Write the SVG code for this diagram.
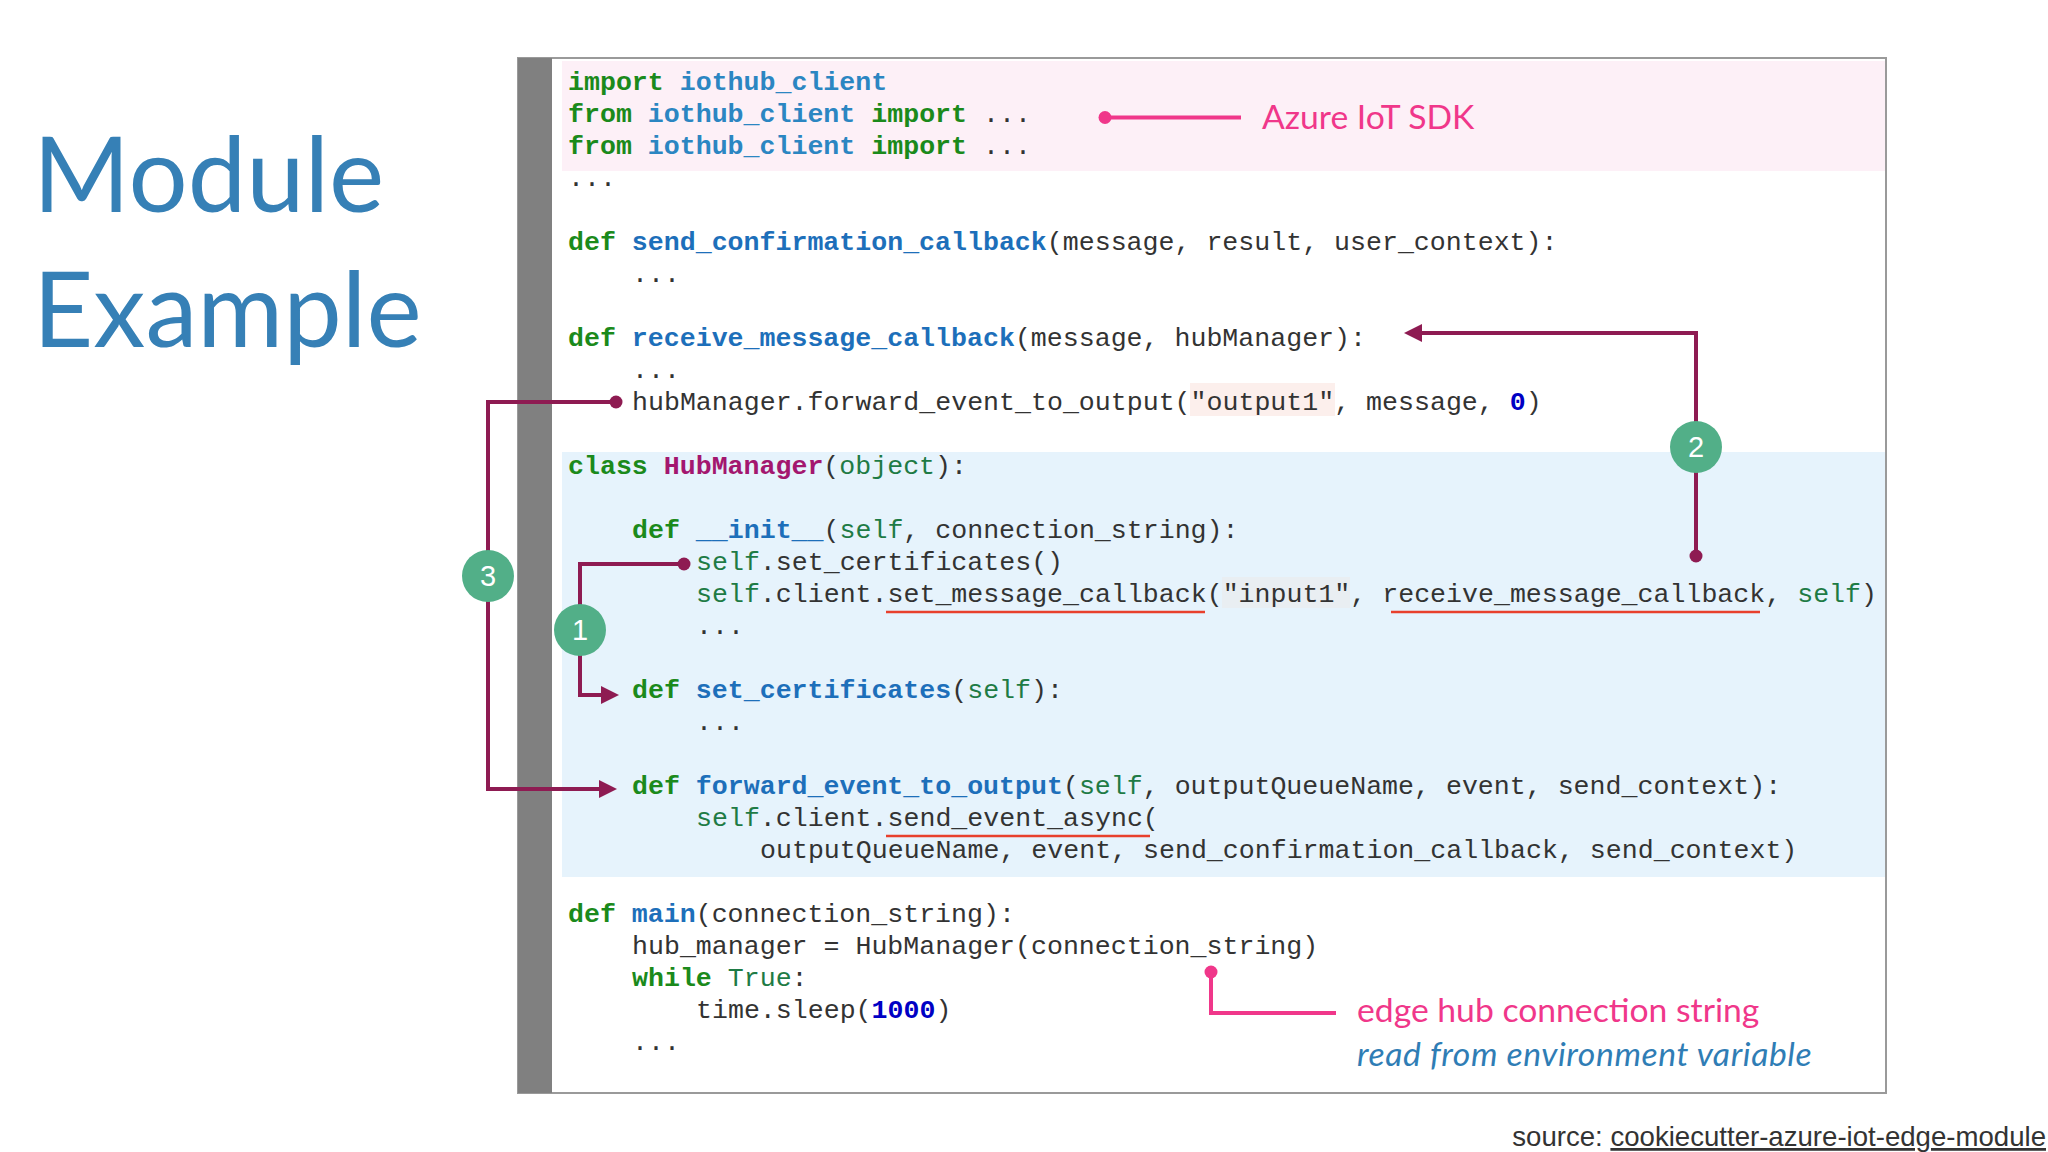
<svg xmlns="http://www.w3.org/2000/svg" width="2048" height="1152" viewBox="0 0 2048 1152">
<style>
.code{font-family:"Liberation Mono","DejaVu Sans Mono",monospace;font-size:26.6px;fill:#333333;white-space:pre}
.kw{fill:#1b8a1b;font-weight:bold}
.mod{fill:#2b86c2;font-weight:bold}
.fn{fill:#1d6fba;font-weight:bold}
.cls{fill:#a3166f;font-weight:bold}
.bi{fill:#1e7b45}
.num{fill:#0000c4;font-weight:bold}
.title{font-family:Lato,"Noto Sans",sans-serif;font-size:104.5px;fill:#3680b6;font-weight:400}
.note{font-family:Lato,"Noto Sans",sans-serif;font-size:33.7px}
.badge circle{fill:#52af88}
.badge text{font-family:"Liberation Sans",Arial,sans-serif;font-size:29px;fill:#ffffff;text-anchor:middle}
.conn{fill:none;stroke:#8e1b52;stroke-width:4}
.pink{fill:none;stroke:#f0378a;stroke-width:4}
.uline{stroke:#e8402c;stroke-width:2.5}
</style>
<defs>
<marker id="arr" markerUnits="userSpaceOnUse" markerWidth="18" markerHeight="18" viewBox="0 0 18 18" refX="4" refY="9" orient="auto">
<path d="M0,0 L18,9 L0,18 z" fill="#8e1b52"/>
</marker>
<marker id="dot" markerUnits="userSpaceOnUse" markerWidth="14" markerHeight="14" viewBox="0 0 14 14" refX="7" refY="7">
<circle cx="7" cy="7" r="6.5" fill="#8e1b52"/>
</marker>
<marker id="pdot" markerUnits="userSpaceOnUse" markerWidth="14" markerHeight="14" viewBox="0 0 14 14" refX="7" refY="7">
<circle cx="7" cy="7" r="6.5" fill="#f0378a"/>
</marker>
</defs>
<rect width="2048" height="1152" fill="#ffffff"/>

<g id="title">
<text class="title" x="33" y="212">Module</text>
<text class="title" x="33" y="347">Example</text>
</g>

<g id="code-panel">
<rect x="518" y="58" width="1368" height="1035" fill="#ffffff" stroke="#9a9a9a" stroke-width="2"/>
<rect x="562" y="61" width="1323" height="110" fill="#fdf0f7"/>
<rect x="562" y="452" width="1323" height="425" fill="#e6f3fc"/>
<rect x="518" y="58" width="34" height="1035" fill="#808080"/>
<rect x="1190" y="383" width="145" height="33" fill="#fcefec"/>
<rect x="1222" y="577" width="128" height="31" fill="#e9eef2"/>
<line class="uline" x1="886" y1="612" x2="1205" y2="612"/>
<line class="uline" x1="1391" y1="612" x2="1760" y2="612"/>
<line class="uline" x1="886" y1="836" x2="1150" y2="836"/>
</g>

<g id="code" transform="translate(0,2.5)">
<text class="code" x="568" y="87"><tspan class="kw">import</tspan> <tspan class="mod">iothub_client</tspan></text>
<text class="code" x="568" y="119"><tspan class="kw">from</tspan> <tspan class="mod">iothub_client</tspan> <tspan class="kw">import</tspan> ...</text>
<text class="code" x="568" y="151"><tspan class="kw">from</tspan> <tspan class="mod">iothub_client</tspan> <tspan class="kw">import</tspan> ...</text>
<text class="code" x="568" y="183">...</text>
<text class="code" x="568" y="247"><tspan class="kw">def</tspan> <tspan class="fn">send_confirmation_callback</tspan>(message, result, user_context):</text>
<text class="code" x="632" y="279">...</text>
<text class="code" x="568" y="343"><tspan class="kw">def</tspan> <tspan class="fn">receive_message_callback</tspan>(message, hubManager):</text>
<text class="code" x="632" y="375">...</text>
<text class="code" x="632" y="407">hubManager.forward_event_to_output("output1", message, <tspan class="num">0</tspan>)</text>
<text class="code" x="568" y="471"><tspan class="kw">class</tspan> <tspan class="cls">HubManager</tspan>(<tspan class="bi">object</tspan>):</text>
<text class="code" x="632" y="535"><tspan class="kw">def</tspan> <tspan class="fn">__init__</tspan>(<tspan class="bi">self</tspan>, connection_string):</text>
<text class="code" x="696" y="567"><tspan class="bi">self</tspan>.set_certificates()</text>
<text class="code" x="696" y="599"><tspan class="bi">self</tspan>.client.set_message_callback("input1", receive_message_callback, <tspan class="bi">self</tspan>)</text>
<text class="code" x="696" y="631">...</text>
<text class="code" x="632" y="695"><tspan class="kw">def</tspan> <tspan class="fn">set_certificates</tspan>(<tspan class="bi">self</tspan>):</text>
<text class="code" x="696" y="727">...</text>
<text class="code" x="632" y="791"><tspan class="kw">def</tspan> <tspan class="fn">forward_event_to_output</tspan>(<tspan class="bi">self</tspan>, outputQueueName, event, send_context):</text>
<text class="code" x="696" y="823"><tspan class="bi">self</tspan>.client.send_event_async(</text>
<text class="code" x="760" y="855">outputQueueName, event, send_confirmation_callback, send_context)</text>
<text class="code" x="568" y="919"><tspan class="kw">def</tspan> <tspan class="fn">main</tspan>(connection_string):</text>
<text class="code" x="632" y="951">hub_manager = HubManager(connection_string)</text>
<text class="code" x="632" y="983"><tspan class="kw">while</tspan> <tspan class="bi">True</tspan>:</text>
<text class="code" x="696" y="1015">time.sleep(<tspan class="num">1000</tspan>)</text>
<text class="code" x="632" y="1047">...</text>
</g>

<g id="connectors">
<path class="conn" d="M1696,556 V333 H1418" marker-start="url(#dot)" marker-end="url(#arr)"/>
<path class="conn" d="M616,402 H488 V789 H603" marker-start="url(#dot)" marker-end="url(#arr)"/>
<path class="conn" d="M684,564 H580 V695 H605" marker-start="url(#dot)" marker-end="url(#arr)"/>
<path class="pink" d="M1105,117.5 H1241" marker-start="url(#pdot)"/>
<path class="pink" d="M1211,972 V1013 H1336" marker-start="url(#pdot)"/>
</g>

<g id="badge-1" class="badge"><circle cx="580" cy="630" r="26"/><text x="580" y="640">1</text></g>
<g id="badge-2" class="badge"><circle cx="1696" cy="447" r="26"/><text x="1696" y="457">2</text></g>
<g id="badge-3" class="badge"><circle cx="488" cy="576" r="26"/><text x="488" y="586">3</text></g>

<g id="label-sdk">
<text class="note" x="1262" y="129" fill="#f0378a" font-size="33">Azure IoT SDK</text>
</g>
<g id="label-edgehub">
<text class="note" x="1357" y="1022" fill="#f0378a">edge hub connection string</text>
<text class="note" x="1357" y="1066" fill="#2f7db5" font-style="italic" font-size="35.2" letter-spacing="0.6">read from environment variable</text>
</g>
<g id="source">
<text x="2046" y="1146" text-anchor="end" font-family="'Liberation Sans',Arial,sans-serif" font-size="27.6" fill="#333333">source: <tspan text-decoration="underline">cookiecutter-azure-iot-edge-module</tspan></text>
</g>
</svg>
